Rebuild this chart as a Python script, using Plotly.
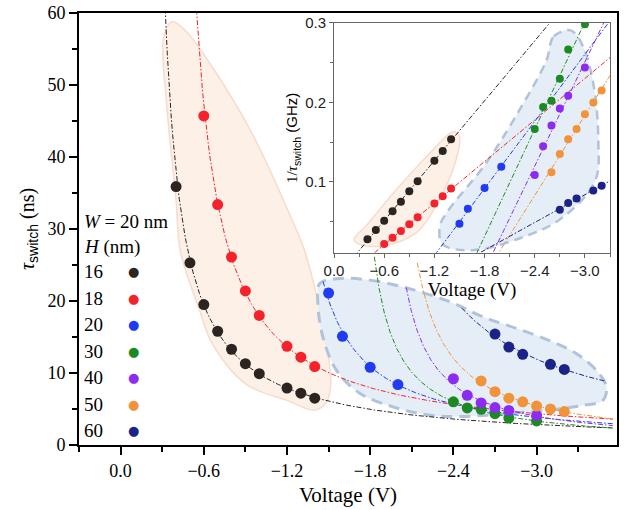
import numpy as np
import plotly.graph_objects as go

# H (nm) for each series, in legend order
heights = ["16", "18", "20", "30", "40", "50", "60"]
colors = ["#2b2420", "#f5222b", "#1f3bf4", "#1c8a22", "#8b2cf0", "#f0933a", "#1b2388"]

# voltage (V) and switching time (ns)
volt_16 = [-0.4, -0.5, -0.6, -0.7, -0.8, -0.9, -1.0, -1.2, -1.3, -1.4]
tau_16 = [35.9, 25.3, 19.5, 15.8, 13.3, 11.3, 9.9, 7.9, 7.2, 6.5]
volt_18 = [-0.6, -0.7, -0.8, -0.9, -1.0, -1.2, -1.3, -1.4]
tau_18 = [45.7, 33.4, 26.1, 21.4, 18.0, 13.7, 12.2, 10.9]
volt_20 = [-1.5, -1.6, -1.8, -2.0]
tau_20 = [21.1, 15.1, 10.8, 8.4]
volt_30 = [-2.4, -2.5, -2.6, -2.7, -2.8, -3.0]
tau_30 = [6.0, 5.15, 4.95, 4.35, 3.75, 3.35]
volt_40 = [-2.4, -2.5, -2.6, -2.7, -2.8, -3.0]
tau_40 = [9.2, 6.9, 5.85, 5.2, 4.8, 4.1]
volt_50 = [-2.6, -2.7, -2.8, -2.9, -3.0, -3.1, -3.2]
tau_50 = [8.9, 7.4, 6.5, 6.0, 5.4, 5.0, 4.65]
volt_60 = [-2.7, -2.8, -2.9, -3.1, -3.2]
tau_60 = [15.4, 13.6, 12.6, 11.2, 10.5]

volts = [volt_16, volt_18, volt_20, volt_30, volt_40, volt_50, volt_60]
taus = [tau_16, tau_18, tau_20, tau_30, tau_40, tau_50, tau_60]

# visible voltage span of each fitted curve in the main panel
curve_start = [0.3, 0.3, -1.46, -1.83, -2.06, -2.14, -2.46]
curve_end = [-3.55, -3.55, -3.55, -3.55, -3.55, -3.55, -3.49]

# hand drawn group outlines, main panel (V, ns)
peach_v = [-0.37, -0.31, -0.33, -0.40, -0.43, -0.57, -0.66, -0.90, -1.20, -1.40,
           -1.486, -1.515, -1.493, -1.421, -1.327, -1.197, -0.95, -0.665, -0.47]
peach_t = [58.8, 56.5, 47.8, 34.0, 27.0, 18.7, 14.1, 8.5, 6.2, 4.85,
           6.0, 8.3, 13.2, 20.1, 27.0, 33.0, 43.2, 52.4, 57.5]
blue_v = [-1.556, -1.796, -2.084, -2.373, -2.613, -2.854, -3.094, -3.286, -3.43, -3.503,
          -3.478, -3.334, -3.094, -2.805, -2.445, -2.205, -1.964, -1.724, -1.556,
          -1.459, -1.423, -1.435]
blue_t = [23.1, 22.9, 21.7, 19.9, 17.8, 16.2, 14.5, 12.7, 10.4, 8.1,
          6.2, 5.5, 4.85, 4.4, 3.95, 4.2, 5.3, 7.2, 10.4,
          15.0, 19.6, 22.4]
# hand drawn group outlines, inset (V, GHz)
peach_in_v = [-0.38, -0.78, -1.18, -1.42, -1.50, -1.46, -1.26, -0.98, -0.58, -0.30, -0.24]
peach_in_r = [0.0445, 0.0945, 0.140, 0.163, 0.157, 0.128, 0.078, 0.036, 0.0195, 0.0216, 0.028]
blue_in_v = [-2.78, -2.62, -2.54, -2.22, -1.82, -1.345, -1.265, -1.30, -1.66, -2.18,
             -2.70, -3.12, -3.16, -3.10, -2.98, -2.86]
blue_in_r = [0.291, 0.282, 0.253, 0.191, 0.124, 0.061, 0.0444, 0.0214, 0.0143, 0.0277,
             0.0528, 0.1008, 0.153, 0.224, 0.270, 0.289]

serif = "Liberation Serif"
sans = "Liberation Sans"
fitdash = "5px,2px,1.5px,2px"

fig = go.Figure()

# shaded groups
fig.add_trace(go.Scatter(x=peach_v + peach_v[:1], y=peach_t + peach_t[:1], mode="lines",
                         line=dict(color="#f6dccb", width=1.5, shape="spline"),
                         fill="toself", fillcolor="#fcf0e7", hoverinfo="skip"))
fig.add_trace(go.Scatter(x=blue_v + blue_v[:1], y=blue_t + blue_t[:1], mode="lines",
                         line=dict(color="#b1c3db", width=3, shape="spline", dash="11px,7px"),
                         fill="toself", fillcolor="#e5edf6", hoverinfo="skip"))
fig.add_trace(go.Scatter(x=peach_in_v + peach_in_v[:1], y=peach_in_r + peach_in_r[:1],
                         mode="lines", xaxis="x2", yaxis="y2",
                         line=dict(color="#f6dccb", width=1.5, shape="spline"),
                         fill="toself", fillcolor="#fcf0e7", hoverinfo="skip"))
fig.add_trace(go.Scatter(x=blue_in_v + blue_in_v[:1], y=blue_in_r + blue_in_r[:1],
                         mode="lines", xaxis="x2", yaxis="y2",
                         line=dict(color="#b1c3db", width=2.5, shape="spline", dash="9px,6px"),
                         fill="toself", fillcolor="#e5edf6", hoverinfo="skip"))

# linear fit of 1/tau against V, drawn as tau in the main panel and 1/tau in the inset
for i in range(len(heights)):
    v = np.array(volts[i])
    rate = 1 / np.array(taus[i])
    coef = np.polyfit(v, rate, 1)

    vv = np.linspace(curve_start[i], curve_end[i], 400)
    rr = np.polyval(coef, vv)
    tt = np.where(rr > 1 / 80, 1 / np.where(rr > 0, rr, 1), np.nan)
    fig.add_trace(go.Scatter(x=vv, y=tt, mode="lines",
                             line=dict(color=colors[i], width=1, dash=fitdash),
                             hoverinfo="skip"))

    vi = np.linspace(0, -3.3, 300)
    fig.add_trace(go.Scatter(x=vi, y=np.polyval(coef, vi), mode="lines", xaxis="x2", yaxis="y2",
                             line=dict(color=colors[i], width=1, dash=fitdash),
                             hoverinfo="skip"))

for i in range(len(heights)):
    fig.add_trace(go.Scatter(x=volts[i], y=taus[i], mode="markers",
                             marker=dict(color=colors[i], size=11), name=heights[i]))
    fig.add_trace(go.Scatter(x=volts[i], y=[1 / t for t in taus[i]], mode="markers",
                             xaxis="x2", yaxis="y2",
                             marker=dict(color=colors[i], size=8), name=heights[i]))

# legend written as text: label left, dot right
notes = [
    dict(x=0.006, y=0.517, text="<i>W</i> = 20 nm"),
    dict(x=0.006, y=0.458, text="<i>H</i> (nm)"),
]
for i, h in enumerate(heights):
    yy = 0.401 - i * 0.0614
    notes.append(dict(x=0.006, y=yy, text=h))
    notes.append(dict(x=0.101, y=yy, text="●", xanchor="center",
                      font=dict(family="DejaVu Sans", size=13, color=colors[i])))
for n in notes:
    n.setdefault("xanchor", "left")
    n.setdefault("font", dict(family=serif, size=19, color="black"))
    fig.add_annotation(xref="paper", yref="paper", yanchor="middle", showarrow=False, **n)

fig.update_layout(
    width=628, height=510,
    margin=dict(l=79, r=11, t=13, b=65),
    plot_bgcolor="white", paper_bgcolor="white",
    showlegend=False,
    font=dict(family=serif, size=18, color="black"),
    xaxis=dict(
        range=[0.3, -3.58], tick0=0, dtick=0.6, tickformat=".1f",
        ticks="outside", ticklen=8, tickwidth=1.5, tickcolor="black",
        minor=dict(tick0=0, dtick=0.3, ticks="outside", ticklen=5, tickwidth=1.5, tickcolor="black"),
        showline=True, linecolor="black", linewidth=1.8, mirror=True,
        showgrid=False, zeroline=False, automargin=False,
        tickfont=dict(family=serif, size=18),
        title=dict(text="Voltage (V)", font=dict(family=serif, size=21), standoff=8),
    ),
    yaxis=dict(
        range=[0, 60], dtick=10, ticklabeloverflow="allow",
        ticks="outside", ticklen=8, tickwidth=1.5, tickcolor="black",
        minor=dict(dtick=5, ticks="outside", ticklen=5, tickwidth=1.5, tickcolor="black"),
        showline=True, linecolor="black", linewidth=1.8, mirror=True,
        showgrid=False, zeroline=False, automargin=False,
        tickfont=dict(family=serif, size=18),
        title=dict(text="<i>τ</i><span style='font-family:Liberation Sans'><sub>switch</sub></span> (ns)",
                   font=dict(family=serif, size=20), standoff=8),
    ),
    xaxis2=dict(
        domain=[0.474, 0.987], anchor="y2",
        range=[0, -3.3], tick0=0, dtick=0.6, tickformat=".1f",
        ticks="outside", ticklen=4, tickcolor="#666",
        minor=dict(tick0=0, dtick=0.3, ticks="outside", ticklen=3, tickcolor="#666"),
        showline=True, linecolor="#666", linewidth=1, mirror=True,
        showgrid=False, zeroline=False, automargin=False,
        tickfont=dict(family=sans, size=15, color="#222"),
        title=dict(text="Voltage (V)", font=dict(family=serif, size=19), standoff=3),
    ),
    yaxis2=dict(
        domain=[0.445, 0.977], anchor="x2",
        range=[0.011, 0.3], tickvals=[0.1, 0.2, 0.3], tickformat=".1f",
        ticks="outside", ticklen=4, tickcolor="#666",
        minor=dict(tick0=0, dtick=0.05, ticks="outside", ticklen=3, tickcolor="#666"),
        showline=True, linecolor="#666", linewidth=1, mirror=True,
        showgrid=False, zeroline=False, automargin=False,
        tickfont=dict(family=sans, size=15, color="#222"),
        title=dict(text="<span style='font-family:Liberation Serif'>1/<i>τ</i></span><sub>switch</sub> (GHz)",
                   font=dict(family=sans, size=15), standoff=3),
    ),
)

# drop the browser's default 8px page margin so the figure fills the window
fig.write_html("out.html", config={"displayModeBar": False},
               post_script="document.body.style.margin = '0';")
